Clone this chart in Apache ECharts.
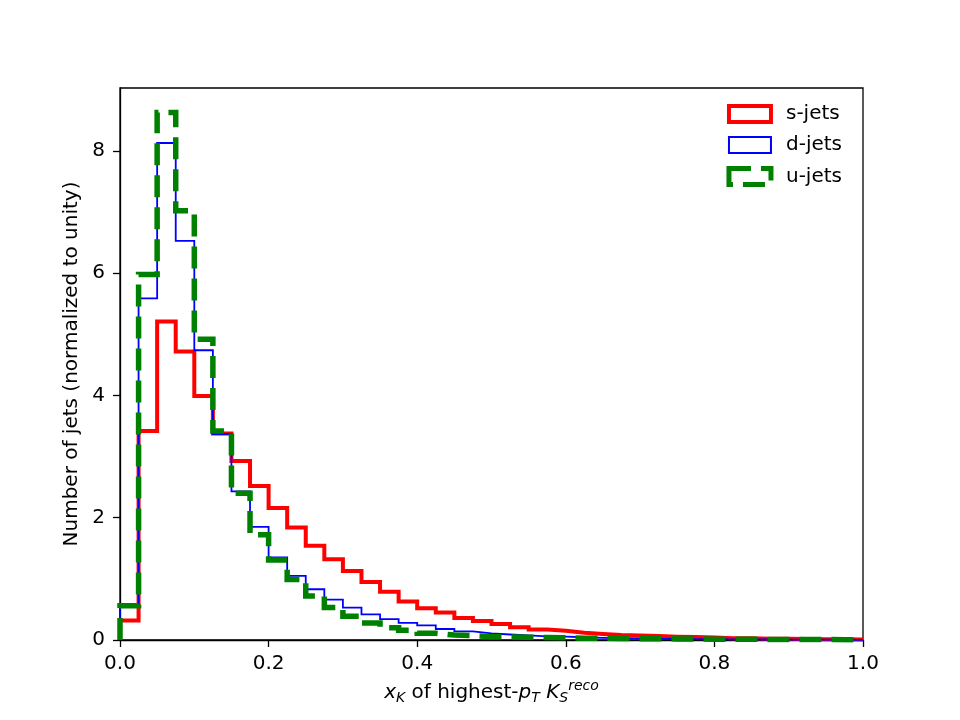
<!DOCTYPE html>
<html>
<head>
<meta charset="utf-8">
<script src="https://cdn.jsdelivr.net/npm/echarts@6/dist/echarts.min.js"></script>
<style>
  html, body { margin: 0; padding: 0; background: #fff; }
  #chart { width: 960px; height: 720px; }
</style>
</head>
<body>
<div id="chart"></div>
<script>
// histogram: 40 bins of width 0.025 over [0, 1]
const binWidth = 0.025;
const xTicks = [0, 0.2, 0.4, 0.6, 0.8, 1.0];
const yTicks = [0, 2, 4, 6, 8];

const sJets = [0.32, 3.42, 5.21, 4.72, 3.99, 3.38, 2.93, 2.52, 2.16, 1.84,
               1.54, 1.32, 1.13, 0.95, 0.79, 0.63, 0.52, 0.45, 0.36, 0.31,
               0.26, 0.21, 0.17, 0.15, 0.12, 0.10, 0.08, 0.075, 0.065, 0.055,
               0.05, 0.04, 0.03, 0.027, 0.022, 0.02, 0.016, 0.014, 0.012, 0.01];
const dJets = [0.55, 5.59, 8.13, 6.53, 4.74, 3.37, 2.43, 1.85, 1.35, 1.05,
               0.83, 0.66, 0.53, 0.42, 0.34, 0.28, 0.24, 0.18, 0.14, 0.11,
               0.09, 0.075, 0.06, 0.055, 0.045, 0.035, 0.03, 0.025, 0.02, 0.018,
               0.015, 0.012, 0.01, 0.009, 0.008, 0.007, 0.006, 0.005, 0.004, 0.003];
const uJets = [0.56, 5.98, 8.63, 7.02, 4.92, 3.42, 2.40, 1.72, 1.31, 0.99,
               0.72, 0.53, 0.39, 0.28, 0.20, 0.16, 0.11, 0.08, 0.07, 0.055,
               0.05, 0.045, 0.04, 0.035, 0.03, 0.028, 0.025, 0.022, 0.02, 0.018,
               0.016, 0.014, 0.012, 0.011, 0.01, 0.009, 0.008, 0.007, 0.006, 0.005];

// turn bin contents into a step outline (left edges, closed to zero at both ends)
function stepData(vals) {
  let pts = [[0, 0]];
  vals.forEach((v, i) => pts.push([+(i * binWidth).toFixed(4), v]));
  pts.push([vals.length * binWidth, 0]);
  return pts;
}

const FONT = 'DejaVu Sans';

function histSeries(name, vals, color, width, dash) {
  return {
    name: name,
    type: 'line',
    step: 'end',
    data: stepData(vals),
    showSymbol: false,
    symbol: 'none',
    animation: false,
    lineStyle: { color: color, width: width, type: dash || 'solid', join: 'miter' },
    itemStyle: { color: color }
  };
}

let option = {
  backgroundColor: '#fff',
  animation: false,
  grid: {
    left: 120, right: 97, top: 88, bottom: 80,
    show: true, borderColor: '#000', borderWidth: 1.3, backgroundColor: 'transparent'
  },
  legend: {
    orient: 'vertical',
    right: 113, top: 99,
    itemWidth: 42, itemHeight: 16,
    itemGap: 11,
    textStyle: { fontFamily: FONT, fontSize: 20, color: '#000', padding: [0, 0, 0, 10] },
    data: [
      { name: 's-jets', icon: 'rect',
        itemStyle: { color: 'rgba(0,0,0,0)', borderColor: '#ff0000', borderWidth: 4 } },
      { name: 'd-jets', icon: 'rect',
        itemStyle: { color: 'rgba(0,0,0,0)', borderColor: '#0000ff', borderWidth: 2 } },
      { name: 'u-jets', icon: 'rect',
        itemStyle: { color: 'rgba(0,0,0,0)', borderColor: '#008000', borderWidth: 5, borderType: [22, 10] } }
    ]
  },
  xAxis: {
    type: 'value',
    min: 0, max: 1, interval: 0.2,
    name: '{i|x}{sub|K}{n| of highest-}{i|p}{sub|T}{n| }{i|K}{sub|S}{sup|reco}',
    nameLocation: 'middle',
    nameGap: 33,
    nameTextStyle: {
      fontFamily: FONT, fontSize: 20, color: '#000',
      rich: {
        n: { fontFamily: FONT, fontSize: 20, color: '#000' },
        i: { fontFamily: FONT, fontSize: 20, fontStyle: 'italic', color: '#000' },
        sub: { fontFamily: FONT, fontSize: 14, fontStyle: 'italic', color: '#000', padding: [10, 0, 0, 0] },
        sup: { fontFamily: FONT, fontSize: 14, fontStyle: 'italic', color: '#000', padding: [0, 0, 14, 0] }
      }
    },
    axisLine: { show: true, lineStyle: { color: '#000', width: 1.3 } },
    axisTick: { show: true, inside: false, length: 7, lineStyle: { color: '#000', width: 1.3 } },
    axisLabel: {
      fontFamily: FONT, fontSize: 20, color: '#000', margin: 14,
      formatter: v => xTicks.some(t => Math.abs(t - v) < 1e-9) ? v.toFixed(1) : ''
    },
    splitLine: { show: false }
  },
  yAxis: {
    type: 'value',
    min: 0, max: 9.03, interval: 2,
    name: 'Number of jets (normalized to unity)',
    nameLocation: 'middle',
    nameGap: 38,
    nameTextStyle: { fontFamily: FONT, fontSize: 20, color: '#000' },
    axisLine: { show: true, lineStyle: { color: '#000', width: 1.3 } },
    axisTick: { show: true, inside: false, length: 7, lineStyle: { color: '#000', width: 1.3 } },
    axisLabel: {
      fontFamily: FONT, fontSize: 20, color: '#000', margin: 15,
      showMaxLabel: false,
      formatter: v => yTicks.includes(v) ? String(v) : ''
    },
    splitLine: { show: false }
  },
  series: [
    histSeries('s-jets', sJets, '#ff0000', 4),
    histSeries('d-jets', dJets, '#0000ff', 1.8),
    histSeries('u-jets', uJets, '#008000', 5.5, [22, 10])
  ]
};

let myChart = echarts.init(document.getElementById('chart'), null, { renderer: 'canvas' });
myChart.setOption(option);
</script>
</body>
</html>
